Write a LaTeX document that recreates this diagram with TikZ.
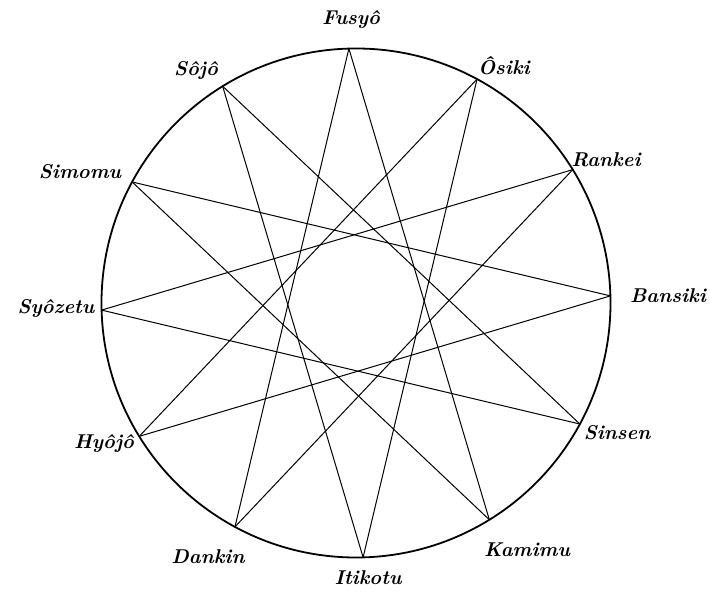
\documentclass[tikz,border=0pt]{standalone}
\usepackage{fontspec}
\begin{document}
\begin{tikzpicture}[x=1pt,y=1pt,
  lab/.style={font=\fontsize{20}{22}\selectfont\bfseries\itshape, inner sep=0pt},
  starline/.style={line width=1pt},
  rim/.style={line width=1.8pt}]
\useasboundingbox (0,0) rectangle (710,594);
\coordinate (c) at (356,291);
\foreach \i in {0,...,11} {
  \path (c) ++(91.6-30*\i:254.5) coordinate (v\i);
}
\draw[rim] (c) circle (254.5);
\foreach \i in {0,...,11} {
  \pgfmathtruncatemacro\j{mod(\i+5,12)}
  \draw[starline] (v\i) -- (v\j);
}
\node[lab] (l0) at (351,575) {Fusyô};
\node[lab] (l1) at (504,528) {Ôsiki};
\node[lab] (l2) at (606,434) {Rankei};
\node[lab] (l3) at (668,298) {Bansiki};
\node[lab] (l4) at (617,161) {Sinsen};
\node[lab] (l5) at (527,44) {Kamimu};
\node[lab] (l6) at (368,16) {Itikotu};
\node[lab] (l7) at (208,37) {Dankin};
\node[lab] (l8) at (104,151) {Hyôjô};
\node[lab] (l9) at (56,286) {Syôzetu};
\node[lab] (l10) at (80,422) {Simomu};
\node[lab] (l11) at (196,524) {Sôjô};
\end{tikzpicture}
\end{document}
